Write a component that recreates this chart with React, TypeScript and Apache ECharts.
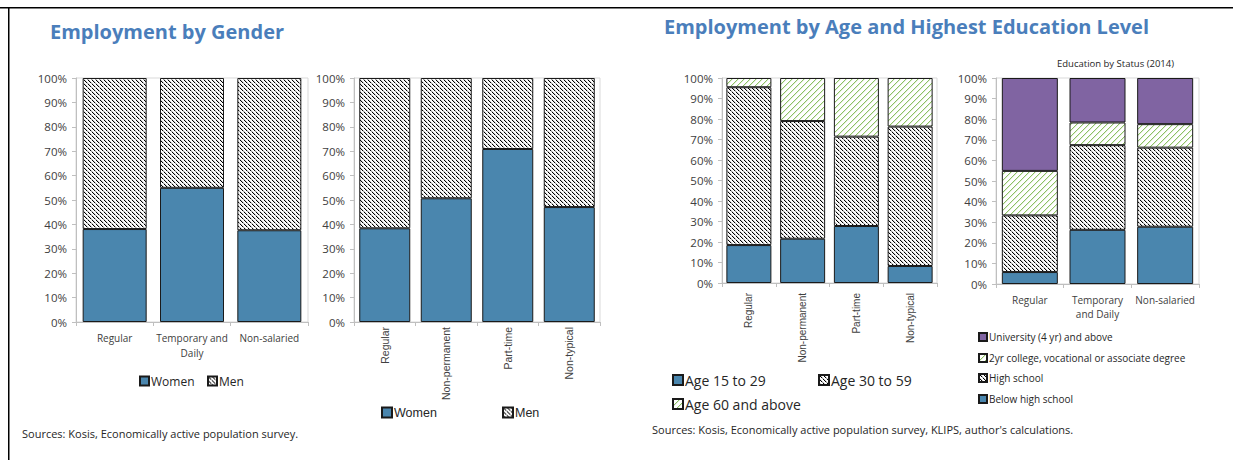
import React, { useEffect, useRef } from 'react';
import * as echarts from 'echarts';

// ---------- Data ----------
const genderCats1 = ['Regular', 'Temporary and\nDaily', 'Non-salaried'];
const women1 = [38.1, 55.0, 37.6];
const men1 = [61.9, 45.0, 62.4];

const genderCats2 = ['Regular', 'Non-permanent', 'Part-time', 'Non-typical'];
const women2 = [38.4, 50.7, 70.9, 47.1];
const men2 = [61.6, 49.3, 29.1, 52.9];

const ageCats = ['Regular', 'Non-permanent', 'Part-time', 'Non-typical'];
const age15to29 = [18.5, 21.6, 27.8, 8.3];
const age30to59 = [77.0, 57.4, 43.6, 68.0];
const age60plus = [4.5, 21.0, 28.6, 23.7];

const eduCats = ['Regular', 'Temporary\nand Daily', 'Non-salaried'];
const belowHighSchool = [5.8, 26.3, 27.8];
const highSchool = [27.5, 41.1, 38.4];
const college2yr = [21.6, 11.0, 11.4];
const university = [45.1, 21.6, 22.4];

// ---------- Styling helpers ----------
const FONT = '"Open Sans", "Noto Sans", sans-serif';
const ARIAL = '"Liberation Sans", Arial, sans-serif';
const BLUE = '#4A86AE';
const PURPLE = '#8064A2';
const BORDER = '#1a1a1a';

function pixelPattern(size: number, bg: string, fn: (x: number, y: number) => string | null) {
  const c = document.createElement('canvas');
  c.width = size;
  c.height = size;
  const ctx = c.getContext('2d')!;
  ctx.fillStyle = bg;
  ctx.fillRect(0, 0, size, size);
  for (let y = 0; y < size; y++) {
    for (let x = 0; x < size; x++) {
      const col = fn(x, y);
      if (col) {
        ctx.fillStyle = col;
        ctx.fillRect(x, y, 1, 1);
      }
    }
  }
  return { image: c, repeat: 'repeat', imageWidth: size, imageHeight: size } as any;
}

export default function App() {
  const ref = useRef<HTMLDivElement>(null);

  useEffect(() => {
    if (!ref.current) return;
    document.documentElement.style.overflow = 'hidden';
    document.body.style.overflow = 'hidden';
    const chart = echarts.init(ref.current, undefined, { renderer: 'svg' });

    const menPattern = pixelPattern(8, '#ffffff', (x, y) => {
      const d = (((x - y) % 4) + 4) % 4;
      if (d === 0) return y % 4 === 3 ? '#9a9a9a' : '#000000';
      if (d === 1) return '#d0d0d0';
      return null;
    });
    const greenPattern = pixelPattern(6, '#ffffff', (x, y) => {
      const d = (x + y) % 6;
      if (d === 0) return '#8cc063';
      if (d === 1) return '#e2f0d8';
      return null;
    });

    const grids = [
      { left: 76, top: 78, width: 232, height: 244 },
      { left: 354, top: 78, width: 246, height: 244 },
      { left: 722, top: 78, width: 215, height: 205 },
      { left: 996, top: 78, width: 203, height: 206 },
    ].map((g) => ({ ...g, show: true, borderColor: '#d9d9d9', borderWidth: 1, containLabel: false }));

    const yAxis = grids.map((_, i) => ({
      type: 'value',
      gridIndex: i,
      min: 0,
      max: 100,
      interval: 10,
      axisLine: { show: true, lineStyle: { color: '#bfbfbf' } },
      axisTick: { show: true, length: 4, lineStyle: { color: '#bfbfbf' } },
      splitLine: { show: false },
      axisLabel: {
        formatter: '{value}%',
        fontFamily: FONT,
        fontSize: 11.5,
        color: '#404040',
        margin: 9,
      },
    }));

    const baseX = {
      type: 'category',
      axisLine: { show: true, lineStyle: { color: '#bfbfbf' } },
      axisTick: { show: true, length: 4, lineStyle: { color: '#bfbfbf' } },
    };
    const xAxis = [
      {
        ...baseX,
        gridIndex: 0,
        data: genderCats1,
        axisLabel: { interval: 0, fontFamily: FONT, fontSize: 10, color: '#404040', margin: 8, lineHeight: 15 },
      },
      {
        ...baseX,
        gridIndex: 1,
        data: genderCats2,
        axisLabel: { interval: 0, rotate: 90, fontFamily: ARIAL, fontSize: 10.5, color: '#404040', margin: 5 },
      },
      {
        ...baseX,
        gridIndex: 2,
        data: ageCats,
        axisLabel: { interval: 0, rotate: 90, fontFamily: ARIAL, fontSize: 10, color: '#404040', margin: 10 },
      },
      {
        ...baseX,
        gridIndex: 3,
        data: eduCats,
        axisLabel: { interval: 0, fontFamily: FONT, fontSize: 10, color: '#404040', margin: 9, lineHeight: 14 },
      },
    ];

    const bar = (name: string, idx: number, stack: string, data: number[], color: any, width: number) => ({
      name,
      type: 'bar',
      xAxisIndex: idx,
      yAxisIndex: idx,
      stack,
      data,
      barWidth: width,
      itemStyle: { color, borderColor: BORDER, borderWidth: 1 },
      emphasis: { disabled: true },
    });

    const series = [
      bar('Women', 0, 'g1', women1, BLUE, 64),
      bar('Men', 0, 'g1', men1, menPattern, 64),
      bar('Women', 1, 'g2', women2, BLUE, 51),
      bar('Men', 1, 'g2', men2, menPattern, 51),
      bar('Age 15 to 29', 2, 'age', age15to29, BLUE, 45),
      bar('Age 30 to 59', 2, 'age', age30to59, menPattern, 45),
      bar('Age 60 and above', 2, 'age', age60plus, greenPattern, 45),
      bar('Below high school', 3, 'edu', belowHighSchool, BLUE, 56),
      bar('High school', 3, 'edu', highSchool, menPattern, 56),
      bar('2yr college, vocational or associate degree', 3, 'edu', college2yr, greenPattern, 56),
      bar('University (4 yr) and above', 3, 'edu', university, PURPLE, 56),
    ];

    const leg = (name: string, left: number, top: number, fontSize: number, family: string, size: number) => ({
      data: [name],
      left,
      top,
      padding: 0,
      icon: 'rect',
      itemWidth: size,
      itemHeight: size,
      selectedMode: false,
      textStyle: { fontFamily: family, fontSize, color: '#262626', padding: [0, 0, 0, -3] },
    });

    const legend = [
      leg('Women', 139, 375, 12, FONT, 9),
      leg('Men', 207, 375, 12, FONT, 9),
      leg('Women', 381, 406, 12.5, ARIAL, 10),
      leg('Men', 502, 406, 12.5, ARIAL, 10),
      leg('Age 15 to 29', 672, 373, 14, FONT, 10),
      leg('Age 30 to 59', 818, 373, 14, FONT, 10),
      leg('Age 60 and above', 672, 397, 14, FONT, 10),
      leg('University (4 yr) and above', 978, 332, 10, FONT, 8),
      leg('2yr college, vocational or associate degree', 978, 353, 10, FONT, 8),
      leg('High school', 978, 373, 10, FONT, 8),
      leg('Below high school', 978, 394, 10, FONT, 8),
    ];

    chart.setOption({
      animation: false,
      backgroundColor: '#ffffff',
      title: [
        {
          text: 'Employment by Gender',
          left: 50,
          top: 21,
          padding: 0,
          textStyle: { fontFamily: FONT, fontSize: 20, fontWeight: 'bold', color: '#4A7EBB' },
        },
        {
          text: 'Employment by Age and Highest Education Level',
          left: 664,
          top: 16,
          padding: 0,
          textStyle: { fontFamily: FONT, fontSize: 20, fontWeight: 'bold', color: '#4A7EBB' },
        },
        {
          text: 'Education by Status (2014)',
          left: 1057,
          top: 58,
          padding: 0,
          textStyle: { fontFamily: FONT, fontSize: 9.5, fontWeight: 'normal', color: '#262626' },
        },
      ],
      grid: grids,
      xAxis,
      yAxis,
      legend,
      series,
      graphic: [
        {
          type: 'rect',
          shape: { x: 0, y: 7, width: 1240, height: 1.5 },
          style: { fill: '#000' },
          silent: true,
        },
        {
          type: 'rect',
          shape: { x: 8, y: 7, width: 1.5, height: 460 },
          style: { fill: '#000' },
          silent: true,
        },
        {
          type: 'rect',
          shape: { x: 1222, y: 9, width: 20, height: 460 },
          style: { fill: '#fff' },
          z: 1000,
          silent: true,
        },
        {
          type: 'text',
          left: 22,
          top: 428,
          style: {
            text: 'Sources: Kosis, Economically active population survey.',
            fontFamily: FONT,
            fontSize: 11,
            fill: '#262626',
          },
        },
        {
          type: 'text',
          left: 652,
          top: 424,
          style: {
            text: "Sources: Kosis, Economically active population survey, KLIPS, author's calculations.",
            fontFamily: FONT,
            fontSize: 11,
            fill: '#262626',
          },
        },
      ],
    });

    return () => chart.dispose();
  }, []);

  return (
    <div
      ref={ref}
      style={{ position: 'absolute', left: 0, top: 0, width: 1233, height: 460, background: '#fff' }}
    />
  );
}
